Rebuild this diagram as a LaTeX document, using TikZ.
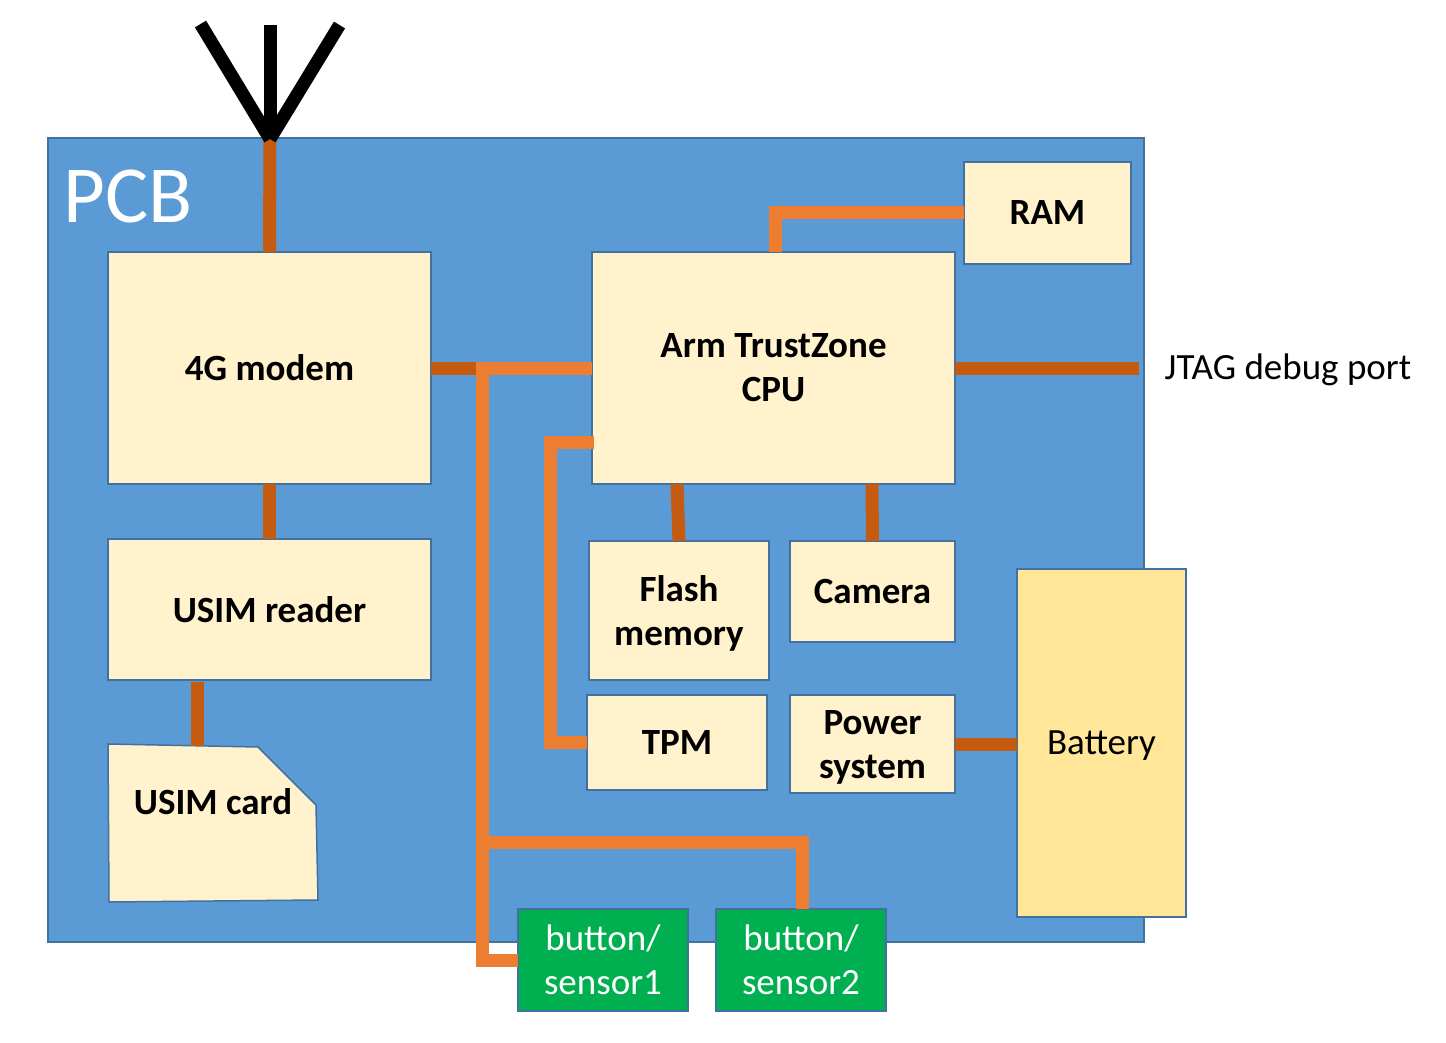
\documentclass[tikz,border=0pt]{standalone}
\usepackage{fontspec}
\setmainfont{Carlito}
\definecolor{pcbblue}{HTML}{5B9BD5}
\definecolor{edgeblue}{HTML}{41719C}
\definecolor{boxcream}{HTML}{FFF2CC}
\definecolor{battyellow}{HTML}{FFE699}
\definecolor{busorange}{HTML}{ED7D31}
\definecolor{busdark}{HTML}{C55A11}
\definecolor{btngreen}{HTML}{00B050}
\begin{document}
\begin{tikzpicture}[x=0.5pt,y=-0.5pt]
		\tikzstyle{every node}=[font=\fontsize{18.5}{22}\selectfont,align=center,inner sep=0pt,outer sep=0pt]
		\tikzstyle{part}=[draw=edgeblue,line width=0.75pt,fill=boxcream,font=\fontsize{18.5}{22}\selectfont\bfseries]
		\tikzstyle{button}=[draw=edgeblue,line width=0.75pt,fill=btngreen,text=white,minimum width=85pt,minimum height=51pt]
		\tikzstyle{bus}=[line width=6.5pt,busorange,miter limit=10]
		\tikzstyle{busd}=[line width=6.5pt,busdark]
		\useasboundingbox (0,0) rectangle (1446,1043);
		\node[draw=edgeblue,line width=0.75pt,fill=pcbblue,minimum width=548pt,minimum height=402pt] (pcb) at (596,540) {};
		\node[text=white,font=\fontsize{40.5}{40}\selectfont] (pcblabel) at (128,196) {PCB};
		\coordinate (antfoot) at (270,139);
		\coordinate (antleft) at (200.5,24);
		\coordinate (antmid) at (270,25);
		\coordinate (antright) at (339.5,25);
		\coordinate (trunktop) at (482.5,368);
		\coordinate (trunkbranch) at (482.5,842);
		\coordinate (trunkbottom) at (482.5,960);
		\coordinate (branchend) at (802,842);
		\coordinate (cpuflash) at (677,484);
		\coordinate (cpucamera) at (872,484);
		\coordinate (cpuram) at (775,252);
		\coordinate (cputpm) at (594,442);
		\coordinate (tpmbendtop) at (550,442);
		\coordinate (ramelbow) at (775,212.5);
		\coordinate (readerfoot) at (197,682);
		\coordinate (cardtop) at (197,746);
		\coordinate (debugend) at (1139,368);
		\node[part,minimum width=161.5pt,minimum height=116pt] (modem) at (269.5,368) {4G modem};
		\node[part,minimum width=161.5pt,minimum height=70.5pt] (reader) at (269.5,609.5) {USIM reader};
		\node[part,minimum width=181.5pt,minimum height=116pt] (cpu) at (773.5,368) {Arm TrustZone\\CPU};
		\node[part,minimum width=83.5pt,minimum height=51pt] (ram) at (1047.5,213) {RAM};
		\node[part,minimum width=90pt,minimum height=69.5pt,text depth=0pt] (flash) at (679,610.5) {Flash\\memory};
		\node[part,minimum width=82.5pt,minimum height=50.5pt] (camera) at (872.5,591.5) {Camera};
		\node[part,minimum width=90pt,minimum height=47.5pt] (tpm) at (677,742.5) {TPM};
		\node[part,minimum width=82.5pt,minimum height=49pt,text depth=0pt] (power) at (872.5,744) {Power\\system};
		\node[draw=edgeblue,line width=0.75pt,fill=battyellow,minimum width=84.5pt,minimum height=174pt,text depth=0pt] (battery) at (1101.5,743) {Battery};
		\node[button] (btna) at (603,960) {button/\\sensor1};
		\node[button] (btnb) at (801,960) {button/\\sensor2};
		\node (jtag) at (1288,370) {JTAG debug port};
		\draw[edgeblue,line width=0.75pt,fill=boxcream] (108,744)--(258,747)--(316,805)--(318,900)--(109,902)--cycle;
		\node[font=\fontsize{18.5}{22}\selectfont\bfseries] (card) at (213,802) {USIM card};
		\draw[busd] (antfoot)--(modem.north);
		\draw[busd] (modem.south)--(reader.north);
		\draw[busd] (readerfoot)--(cardtop);
		\draw[busd] (modem.east)--(trunktop);
		\draw[busd] (cpu.east)--(debugend);
		\draw[busd] (cpuflash)--(flash.north);
		\draw[busd] (cpucamera)--(camera.north);
		\draw[busd] (power.east)--(battery.west|-power.east);
		\draw[bus] (cpu.west)--(trunktop)--(trunkbottom)--(btna.west);
		\draw[bus] (cputpm)--(tpmbendtop)--(tpmbendtop|-tpm.west)--(tpm.west);
		\draw[bus] (ram.west|-ramelbow)--(ramelbow)--(cpuram);
		\draw[bus] (trunkbranch)--(branchend)--(branchend|-btnb.north);
		\draw[black,line width=6.5pt] (antfoot)--(antleft);
		\draw[black,line width=6.5pt] (antfoot)--(antmid);
		\draw[black,line width=6.5pt] (antfoot)--(antright);
\end{tikzpicture}
\end{document}
